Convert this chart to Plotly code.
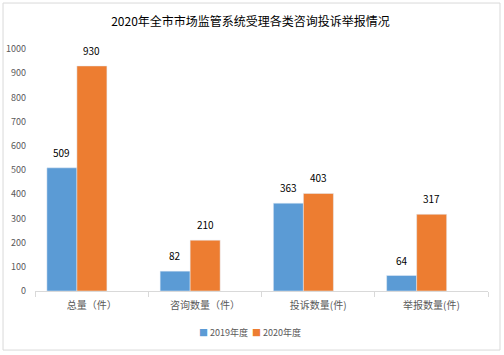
import plotly.graph_objects as go

categories = ["总量（件）", "咨询数量（件）", "投诉数量(件)", "举报数量(件)"]
series_names = ["2019年度", "2020年度"]
values_2019 = [509, 82, 363, 64]
values_2020 = [930, 210, 403, 317]
y_ticks = [0, 100, 200, 300, 400, 500, 600, 700, 800, 900, 1000]

FONT = "Noto Sans CJK SC, Liberation Sans, sans-serif"
colors = ["#5B9BD5", "#ED7D31"]
bar_w = 0.265
offsets = [-0.395, -0.130]

fig = go.Figure()
annotations = []
for name, vals, col, off in zip(series_names, [values_2019, values_2020], colors, offsets):
    fig.add_trace(go.Bar(
        x=categories, y=vals, name=name, marker_color=col,
        width=bar_w, offset=off, showlegend=False,
    ))
    for i, v in enumerate(vals):
        annotations.append(dict(
            x=i + off + bar_w / 2, y=v, xref="x", yref="y", text=str(v),
            showarrow=False, yanchor="bottom", yshift=6,
            font=dict(size=10, color="#000000", family=FONT)))

legend_html = ('<span style="color:%s">■</span> %s  <span style="color:%s">■</span> %s'
               % (colors[0], series_names[0], colors[1], series_names[1]))
annotations.append(dict(text=legend_html, xref="paper", yref="paper",
                        x=(250 - 35) / 453, y=(291 - 332) / 242,
                        xanchor="center", yanchor="middle", showarrow=False,
                        font=dict(size=9, color="#595959", family=FONT)))

fig.update_layout(
    width=504, height=355,
    margin=dict(l=35, r=16, t=49, b=64, autoexpand=False),
    paper_bgcolor="white", plot_bgcolor="white",
    barmode="overlay",
    title=dict(text="2020年全市市场监管系统受理各类咨询投诉举报情况",
               x=0.497, xanchor="center", y=0.938, yanchor="middle",
               font=dict(size=12, color="#000000", family=FONT)),
    font=dict(family=FONT),
    showlegend=False,
    annotations=annotations,
    shapes=[dict(type="rect", xref="paper", yref="paper",
                 x0=-0.0706, x1=1.0265, y0=-0.244, y1=1.190,
                 line=dict(color="#D9D9D9", width=1), fillcolor="rgba(0,0,0,0)",
                 layer="above")],
)
fig.update_xaxes(
    automargin=False,
    showline=True, linecolor="#D9D9D9", linewidth=1,
    ticks="outside", tickson="boundaries", ticklen=5, tickcolor="#D9D9D9",
    tickfont=dict(size=10, color="#595959", family=FONT),
    ticklabelstandoff=5,
    showgrid=False,
)
fig.update_yaxes(
    automargin=False,
    range=[0, 1000], tickvals=y_ticks, showgrid=False, showline=False,
    zeroline=False, ticks="", tickfont=dict(size=9, color="#595959", family=FONT),
    ticklabelstandoff=8,
)
fig.write_html("out.html", config={"displayModeBar": False},
               post_script="document.body.style.margin='0';")
